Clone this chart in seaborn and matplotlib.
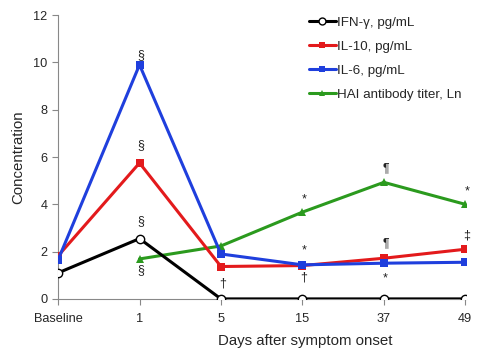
import numpy as np
import pandas as pd
import matplotlib
matplotlib.use("Agg")
import matplotlib.pyplot as plt
import seaborn as sns

# Data
days = ["Baseline", "1", "5", "15", "37", "49"]
ifn_gamma = [1.1, 2.55, 0.0, 0.0, 0.0, 0.0]
il_10 = [1.82, 5.75, 1.37, 1.41, 1.72, 2.1]
il_6 = [1.65, 9.9, 1.9, 1.44, 1.51, 1.55]
hai_titer = [np.nan, 1.69, 2.24, 3.67, 4.93, 4.0]

series_names = ["IFN-γ, pg/mL", "IL-10, pg/mL", "IL-6, pg/mL", "HAI antibody titer, Ln"]

# significance marks: (day index, y position, symbol)
marks = [
    (1, 10.3, "§"), (1, 6.5, "§"), (1, 3.3, "§"), (1, 1.2, "§"),
    (2, 0.65, "†"),
    (3, 4.2, "*"), (3, 2.05, "*"), (3, 0.9, "†"),
    (4, 5.55, "¶"), (4, 2.35, "¶"), (4, 0.85, "*"),
    (5, 4.55, "*"), (5, 2.7, "‡"),
]


def build_frame():
    x = np.arange(len(days))
    df = pd.DataFrame({
        "x": x,
        "IFN": ifn_gamma,
        "IL10": il_10,
        "IL6": il_6,
        "HAI": hai_titer,
    })
    return df


def plot_chart(df):
    sns.set_style("white")
    plt.rcParams["font.family"] = ["Liberation Sans", "DejaVu Sans"]

    fig = plt.figure(figsize=(4.8, 3.61), dpi=100)
    ax = fig.add_axes([0.121, 0.172, 0.850, 0.786])

    sns.lineplot(data=df, x="x", y="IFN", ax=ax, color="black", lw=2.2,
                 marker="o", markersize=6, markerfacecolor="white",
                 markeredgecolor="black", markeredgewidth=1.0,
                 label=series_names[0], zorder=3)
    sns.lineplot(data=df, x="x", y="IL10", ax=ax, color="#e31a1c", lw=2.2,
                 marker="s", markersize=6, markeredgewidth=0,
                 label=series_names[1], zorder=4)
    sns.lineplot(data=df, x="x", y="IL6", ax=ax, color="#1f3fdd", lw=2.2,
                 marker="s", markersize=6, markeredgewidth=0,
                 label=series_names[2], zorder=5)
    sns.lineplot(data=df.dropna(), x="x", y="HAI", ax=ax, color="#2b9a1e", lw=2.2,
                 marker="^", markersize=6, markeredgewidth=0,
                 label=series_names[3], zorder=2)

    for i, y, s in marks:
        ax.text(i + 0.02, y, s, ha="center", va="center", fontsize=9, color="#222222")

    ax.set_xlim(0, 5.01)
    ax.set_ylim(0, 12)
    ax.set_yticks(range(0, 13, 2))
    ax.set_xticks(range(len(days)))
    ax.set_xticklabels(days)
    ax.set_xlabel("Days after symptom onset", fontsize=10.8)
    ax.xaxis.set_label_coords(0.605, -0.125)
    ax.set_ylabel("Concentration", fontsize=10.8, labelpad=6)

    for side in ["top", "right"]:
        ax.spines[side].set_visible(False)
    for side in ["left", "bottom"]:
        ax.spines[side].set_color("#888888")
        ax.spines[side].set_linewidth(0.8)
    ax.tick_params(axis="both", labelsize=9.2, length=4, color="#888888",
                   direction="out", left=True, bottom=True)
    ax.tick_params(axis="x", pad=6)

    leg = ax.legend(loc="upper left", bbox_to_anchor=(0.602, 1.015), frameon=False,
                    fontsize=9.6, handlelength=2.0, handletextpad=0.1,
                    labelspacing=0.88, borderaxespad=0)
    for h in leg.legend_handles:
        h.set_markersize(5)

    fig.savefig("out.png", dpi=100)


def main():
    df = build_frame()
    plot_chart(df)


if __name__ == "__main__":
    main()
